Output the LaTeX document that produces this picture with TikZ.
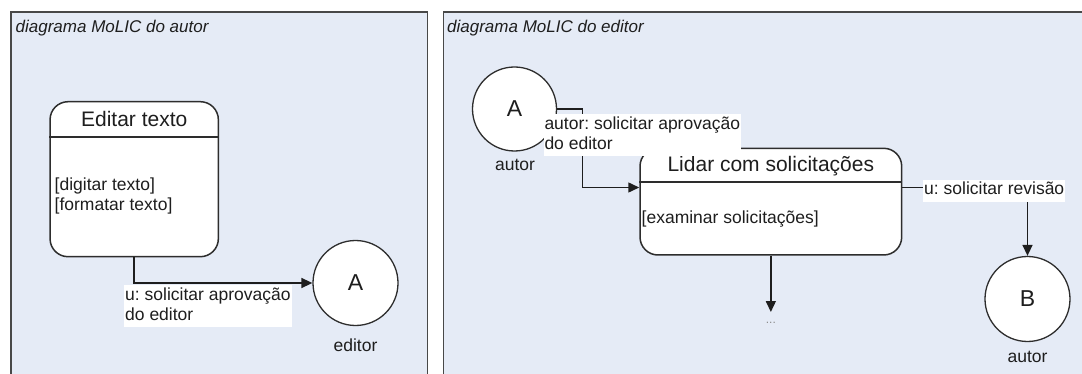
\documentclass[tikz,border=0pt]{standalone}
\usepackage{fontspec}
\setmainfont{Liberation Sans}
\frenchspacing
\usetikzlibrary{arrows.meta}
\definecolor{panelfill}{RGB}{229,235,246}
\definecolor{panelline}{RGB}{72,72,72}
\definecolor{boxline}{RGB}{45,45,45}
\definecolor{ink}{RGB}{30,30,30}
\definecolor{dotgray}{RGB}{140,140,140}
\begin{document}
\begin{tikzpicture}[x=1pt,y=-1pt,
  panel/.style={draw=panelline, line width=1.3pt, fill=panelfill},
  scene/.style={draw=boxline, line width=1.5pt, fill=white, rounded corners=18pt, inner sep=0pt},
  sepline/.style={draw=boxline, line width=1.5pt},
  state/.style={circle, draw=boxline, line width=1.3pt, fill=white, inner sep=0pt,
    minimum size=85pt, font=\fontsize{23}{26}\selectfont, text=ink},
  conn/.style={draw=ink, line width=1.5pt, -{Triangle[length=11pt,width=10pt]}},
  tag/.style={fill=white, inner sep=1pt, align=left, font=\fontsize{17.5}{20}\selectfont, text=ink},
  lbl/.style={inner sep=0pt, font=\fontsize{17.5}{20}\selectfont, text=ink},
  frametitle/.style={inner sep=0pt, font=\fontsize{17}{20}\selectfont\itshape, text=ink},
  boxtitle/.style={inner sep=0pt, font=\fontsize{21}{24}\selectfont, text=ink},
  dotsty/.style={inner sep=0pt, text height=11pt, font=\fontsize{12}{14}\selectfont, text=dotgray}]
\useasboundingbox (0,0) rectangle (1082,374);
\clip (0,0) rectangle (1082,374);
\fill[white] (0,0) rectangle (1082,374);

% the two panels
\draw[panel] (11,12) rectangle (427.5,395);
\draw[panel] (443.3,12) rectangle (1100,395);
\node[frametitle, anchor=base west] (ttlL) at (15.5,33) {diagrama MoLIC do autor};
\node[frametitle, anchor=base west] (ttlR) at (447,33) {diagrama MoLIC do editor};

% ---- author diagram ----
\node[scene, minimum width=168.3pt, minimum height=155pt] (ed) at (134.2,179.2) {};
\draw[sepline] ([yshift=-36pt]ed.north west) -- ([yshift=-36pt]ed.north east);
\node[boxtitle, anchor=base] (edT) at ([yshift=-25.3pt]ed.north) {Editar texto};
\node[lbl, anchor=base west] (ed1) at (54.5,191) {[digitar texto]};
\node[lbl, anchor=base west] (ed2) at (54.5,211) {[formatar texto]};

\node[state] (cA1) at (355.5,283) {A};
\node[lbl] (uA1) at (355.5,345) {editor};

\draw[conn] (ed.south) |- (cA1.west);
\node[tag, anchor=north west] (m1) at (124,285) {u: solicitar aprovação\strut\\do editor\strut};

% ---- editor diagram ----
\node[state, minimum size=84pt] (cA2) at (514.5,109) {A};
\node[lbl] (uA2) at (515,165) {autor};

\node[scene, minimum width=261.7pt, minimum height=106.7pt] (lid) at (770.85,201.65) {};
\draw[sepline] ([yshift=-34.7pt]lid.north west) -- ([yshift=-34.7pt]lid.north east);
\node[boxtitle, anchor=base] (lidT) at ([yshift=-24.4pt]lid.north) {Lidar com solicitações};
\node[lbl, anchor=base west] (lid1) at (641.5,223.5) {[examinar solicitações]};

\node[state] (cB) at (1027.5,299) {B};
\node[lbl] (uB) at (1027.5,356.7) {autor};

\coordinate (bendA) at (582.7,187.5);
\draw[conn] (cA2.east) -| (bendA) -- (bendA -| lid.west);

\coordinate (bendB) at (1027.5,187.5);
\draw[conn] (lid.east |- bendB) -- (bendB) -- (cB.north);

\node[dotsty, anchor=north] (more) at (770.85,312) {...};
\draw[conn] (lid.south) -- (more.north);

\node[tag, anchor=north west] (m2) at (543.3,114) {autor: solicitar aprovação\strut\\do editor\strut};
\node[tag, anchor=north west] (m3) at (923,179.5) {u: solicitar revisão\strut};
\end{tikzpicture}
\end{document}
